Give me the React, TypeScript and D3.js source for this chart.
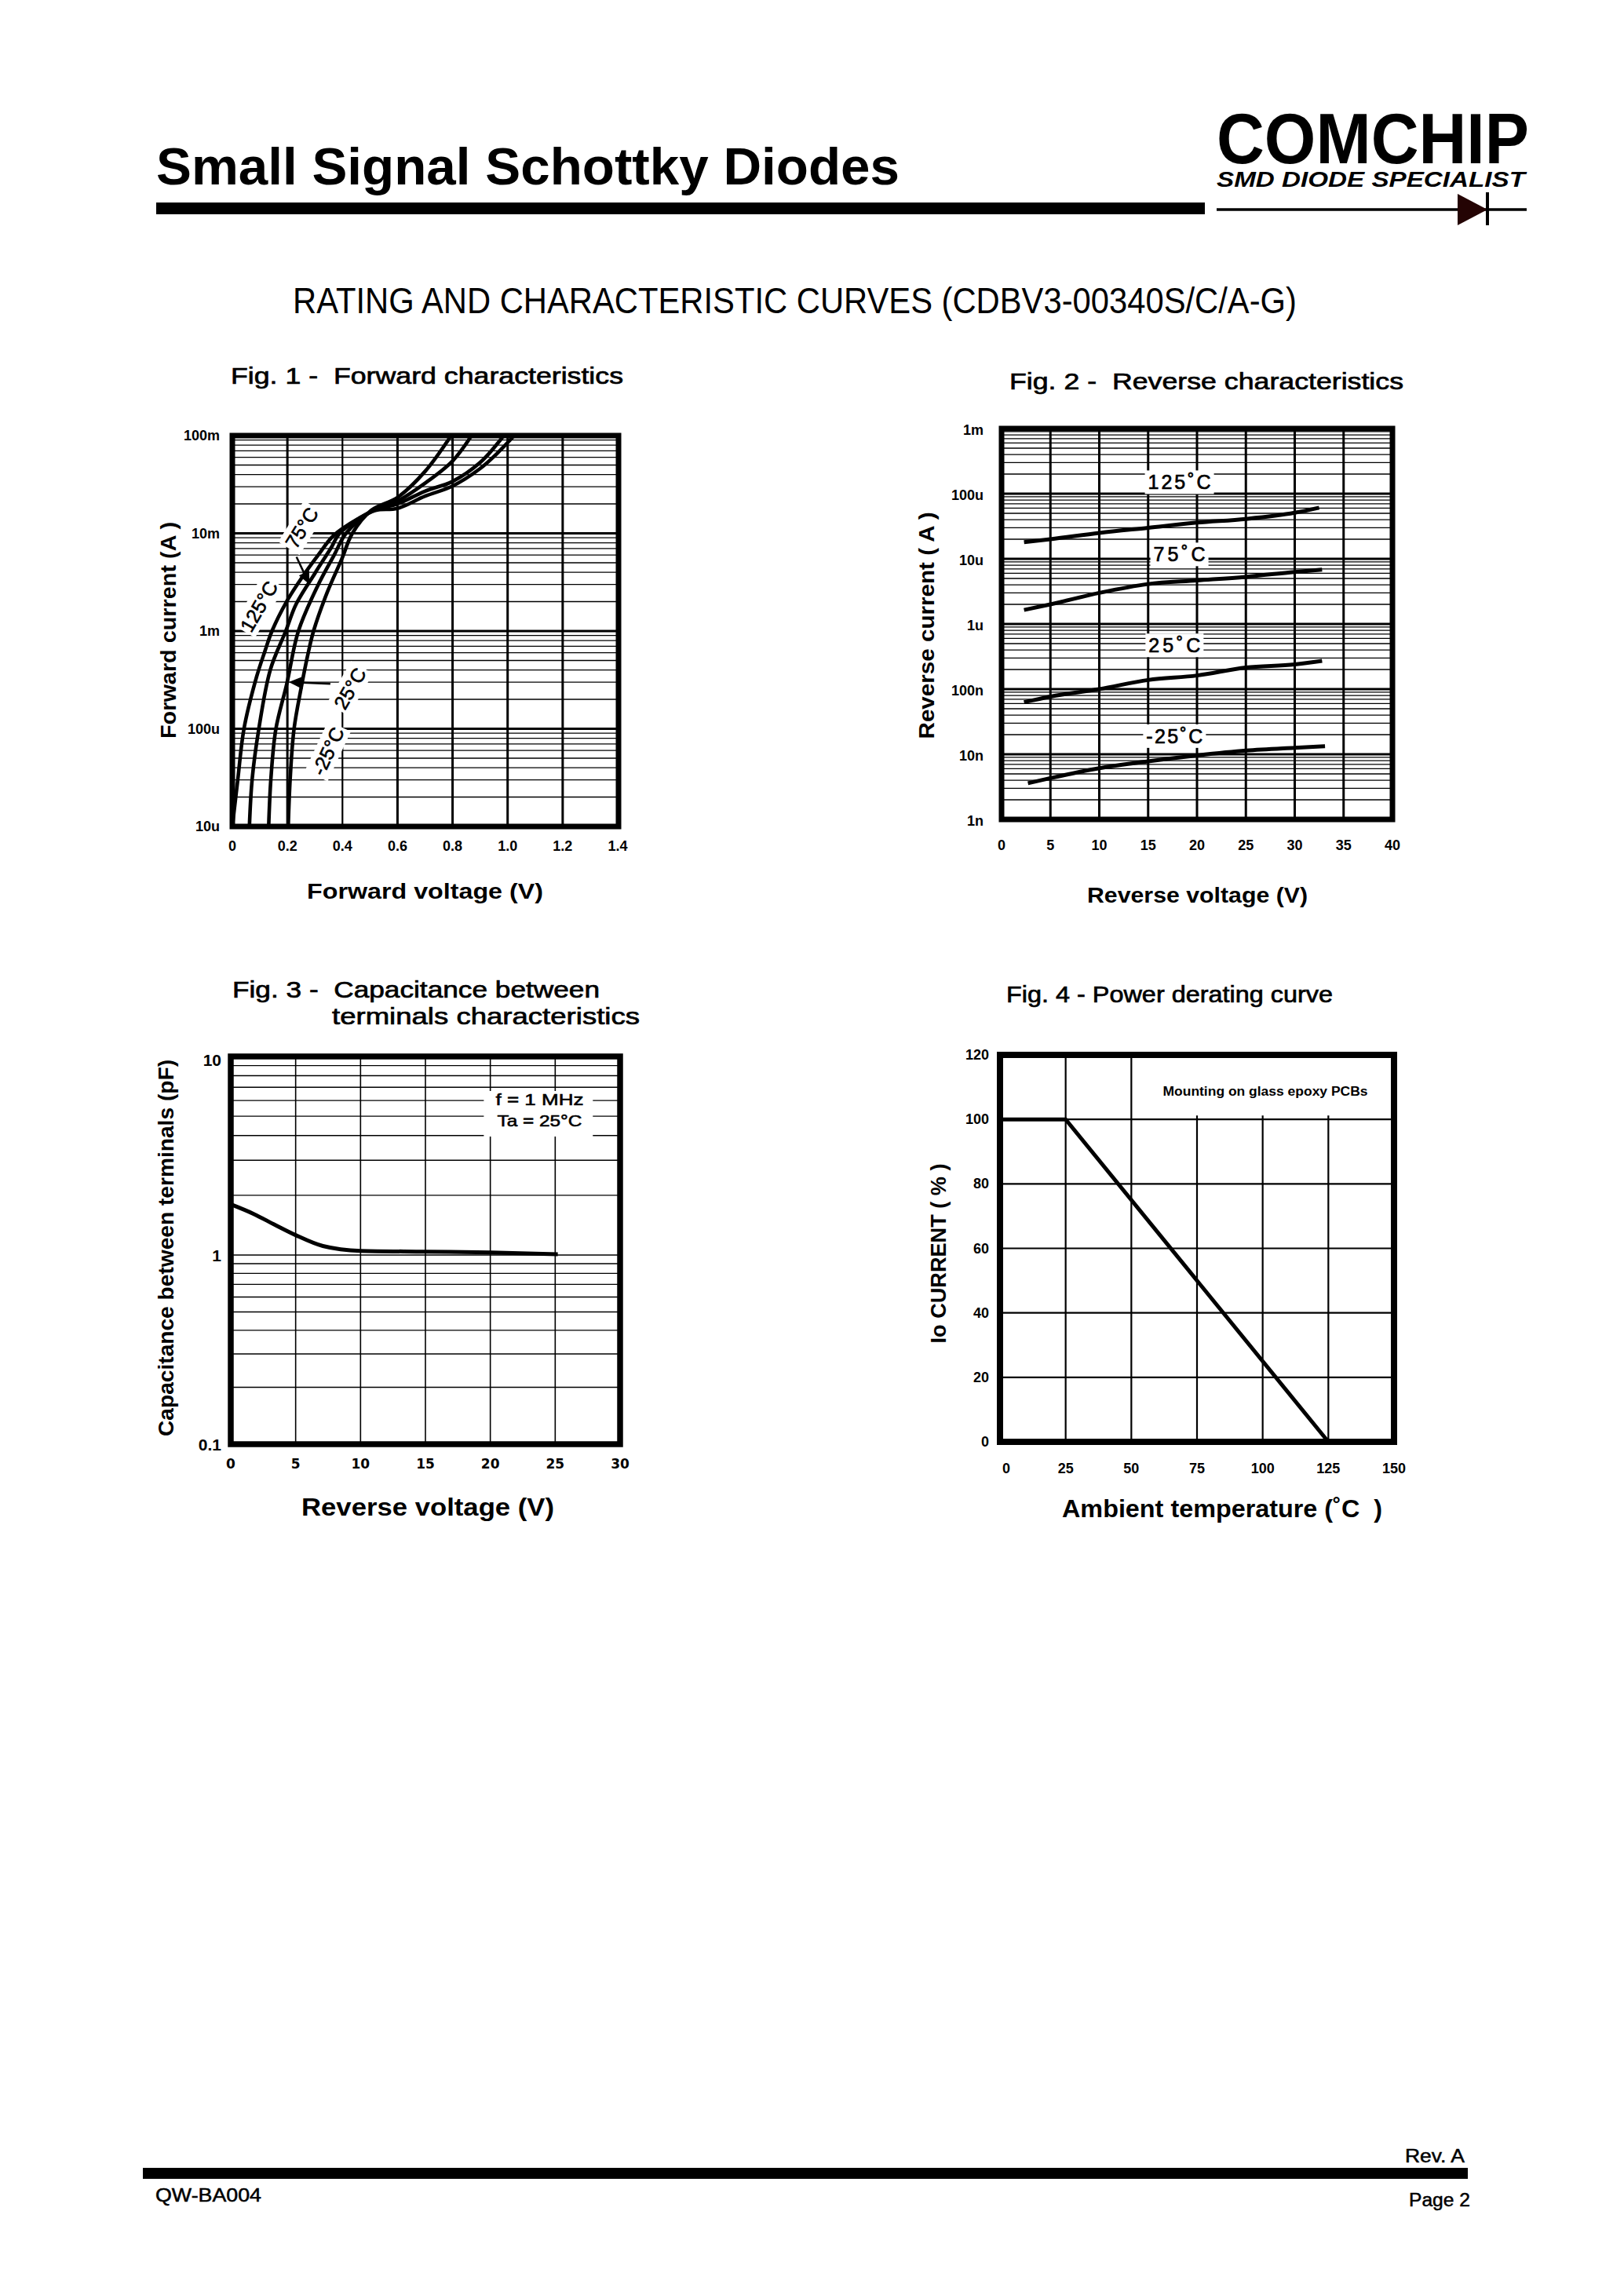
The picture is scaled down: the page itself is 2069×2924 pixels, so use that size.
import React from "react";
import * as d3 from "d3";

type Pt = [number, number];

const FONT = "'Liberation Sans', Arial, Helvetica, sans-serif";

// ---------------- Fig. 1 : Forward characteristics ----------------
const fig1XTicks = [0, 0.2, 0.4, 0.6, 0.8, 1.0, 1.2, 1.4];
const fig1XTickLabels = ["0", "0.2", "0.4", "0.6", "0.8", "1.0", "1.2", "1.4"];
const fig1YTicks = [1e-5, 1e-4, 1e-3, 1e-2, 1e-1];
const fig1YTickLabels = ["10u", "100u", "1m", "10m", "100m"];
const fig1Curve125: Pt[] = [
  [0.0, 1e-5], [0.02, 3.05e-5], [0.042, 9.9e-5], [0.088, 3.39e-4], [0.118, 6.18e-4],
  [0.144, 1e-3], [0.197, 2.0e-3], [0.255, 3.6e-3], [0.312, 6.0e-3], [0.368, 9.5e-3],
  [0.455, 1.4e-2], [0.52, 1.72e-2], [0.6, 1.8e-2], [0.7, 2.4e-2], [0.8, 3.05e-2],
  [0.9, 4.6e-2], [0.96, 6.5e-2], [1.024, 0.1],
];
const fig1Curve75: Pt[] = [
  [0.062, 1e-5], [0.072, 3.05e-5], [0.096, 9.9e-5], [0.138, 4.02e-4], [0.194, 1e-3],
  [0.232, 1.89e-3], [0.3, 3.9e-3], [0.36, 7.2e-3], [0.39, 1.0e-2], [0.515, 1.72e-2],
  [0.6, 2.0e-2], [0.7, 2.7e-2], [0.8, 3.4e-2], [0.9, 5.3e-2], [0.986, 0.1],
];
const fig1Curve25: Pt[] = [
  [0.132, 1e-5], [0.14, 3.05e-5], [0.158, 9.9e-5], [0.198, 2.9e-4], [0.24, 1e-3],
  [0.31, 2.9e-3], [0.37, 6.0e-3], [0.413, 1.0e-2], [0.51, 1.72e-2], [0.6, 2.14e-2],
  [0.7, 3.26e-2], [0.8, 5.5e-2], [0.869, 0.1],
];
const fig1CurveM25: Pt[] = [
  [0.203, 1e-5], [0.21, 3.05e-5], [0.224, 9.9e-5], [0.25, 2.62e-4], [0.274, 5.68e-4],
  [0.295, 1e-3], [0.345, 2.5e-3], [0.398, 5.5e-3], [0.436, 1.0e-2], [0.505, 1.72e-2],
  [0.6, 2.33e-2], [0.7, 4.3e-2], [0.795, 0.1],
];
const fig1SeriesLabels = ["125°C", "75°C", "25°C", "-25°C"];

// ---------------- Fig. 2 : Reverse characteristics ----------------
const fig2XTicks = [0, 5, 10, 15, 20, 25, 30, 35, 40];
const fig2XTickLabels = ["0", "5", "10", "15", "20", "25", "30", "35", "40"];
const fig2YTicks = [1e-9, 1e-8, 1e-7, 1e-6, 1e-5, 1e-4, 1e-3];
const fig2YTickLabels = ["1n", "10n", "100n", "1u", "10u", "100u", "1m"];
const fig2Curve125: Pt[] = [
  [2.3, 1.8e-5], [5, 2.0e-5], [10, 2.5e-5], [15, 3.0e-5], [20, 3.6e-5], [25, 4.1e-5], [30, 5.1e-5], [32.5, 6.1e-5],
];
const fig2Curve75: Pt[] = [
  [2.3, 1.64e-6], [5, 2.0e-6], [10, 3.0e-6], [15, 4.1e-6], [20, 4.66e-6], [25, 5.3e-6], [30, 6.3e-6], [32.8, 6.85e-6],
];
const fig2Curve25: Pt[] = [
  [2.3, 6.3e-8], [5, 7.7e-8], [10, 1.0e-7], [15, 1.38e-7], [20, 1.62e-7], [25, 2.14e-7], [30, 2.4e-7], [32.8, 2.72e-7],
];
const fig2CurveM25: Pt[] = [
  [2.7, 3.6e-9], [5, 4.3e-9], [10, 6.1e-9], [15, 7.8e-9], [20, 9.6e-9], [25, 1.14e-8], [30, 1.26e-8], [33.1, 1.33e-8],
];
const fig2SeriesLabels = ["125˚C", "75˚C", "25˚C", "-25˚C"];

// ---------------- Fig. 3 : Capacitance ----------------
const fig3XTicks = [0, 5, 10, 15, 20, 25, 30];
const fig3XTickLabels = ["0", "5", "10", "15", "20", "25", "30"];
const fig3YTicks = [0.1, 1, 10];
const fig3YTickLabels = ["0.1", "1", "10"];
const fig3Curve: Pt[] = [
  [0, 1.8], [1.77, 1.61], [3.4, 1.42], [5, 1.26], [7.1, 1.11], [10, 1.05], [15, 1.04], [20, 1.03], [25.2, 1.01],
];

// ---------------- Fig. 4 : Power derating ----------------
const fig4XTicks = [0, 25, 50, 75, 100, 125, 150];
const fig4XTickLabels = ["0", "25", "50", "75", "100", "125", "150"];
const fig4YTicks = [0, 20, 40, 60, 80, 100, 120];
const fig4YTickLabels = ["0", "20", "40", "60", "80", "100", "120"];
const fig4Curve: Pt[] = [[0, 100], [25, 100], [125, 0]];

// ---------------- helpers ----------------
function minorLog(majors: number[]): number[] {
  const out: number[] = [];
  for (let i = 0; i < majors.length - 1; i++) {
    for (let k = 2; k <= 9; k++) out.push(majors[i] * k);
  }
  return out;
}

function Arrow({ x1, y1, x2, y2, size = 16, sw = 2.5 }: any) {
  const a = Math.atan2(y2 - y1, x2 - x1);
  const bx = x2 - size * Math.cos(a);
  const by = y2 - size * Math.sin(a);
  const w = size * 0.45;
  const p2 = [bx + w * Math.sin(a), by - w * Math.cos(a)];
  const p3 = [bx - w * Math.sin(a), by + w * Math.cos(a)];
  return (
    <g>
      <line x1={x1} y1={y1} x2={bx} y2={by} stroke="#000" strokeWidth={sw} />
      <polygon points={`${x2},${y2} ${p2[0]},${p2[1]} ${p3[0]},${p3[1]}`} fill="#000" />
    </g>
  );
}

function RotLabel({ x, y, angle, text, fontSize = 25, w = 70, h = 30 }: any) {
  return (
    <g transform={`translate(${x},${y}) rotate(${angle})`}>
      <rect x={-w / 2} y={-h / 2} width={w} height={h} fill="#fff" />
      <text textAnchor="middle" dy="0.36em" fontSize={fontSize} fontFamily={FONT} stroke="#000" strokeWidth={0.6}>
        {text}
      </text>
    </g>
  );
}

function YTitle({ cx, cy, text, len, fs = 28 }: any) {
  return (
    <text
      transform={`translate(${cx},${cy}) rotate(-90)`}
      textAnchor="middle"
      dy="0.36em"
      fontSize={fs}
      fontWeight="bold"
      fontFamily={FONT}
      textLength={len}
      lengthAdjust="spacingAndGlyphs"
      style={{ whiteSpace: "pre" }}
    >
      {text}
    </text>
  );
}

function XTitle({ x, y, text, len, fs = 28 }: any) {
  return (
    <text
      x={x}
      y={y}
      fontSize={fs}
      fontWeight="bold"
      fontFamily={FONT}
      textLength={len}
      lengthAdjust="spacingAndGlyphs"
      style={{ whiteSpace: "pre" }}
    >
      {text}
    </text>
  );
}

function FigTitle({ x, y, text, len, fs = 30 }: any) {
  return (
    <text
      x={x}
      y={y}
      fontSize={fs}
      fontFamily={FONT}
      stroke="#000"
      strokeWidth={0.7}
      textLength={len}
      lengthAdjust="spacingAndGlyphs"
      style={{ whiteSpace: "pre" }}
    >
      {text}
    </text>
  );
}

// ---------------- Fig 1 ----------------
function Fig1() {
  const x = d3.scaleLinear().domain([0, 1.4]).range([296, 787]);
  const y = d3.scaleLog().domain([1e-5, 1e-1]).range([1053, 555]);
  const line = d3
    .line<Pt>()
    .x((d) => x(d[0]))
    .y((d) => y(d[1]))
    .curve(d3.curveCatmullRom.alpha(0.5));
  const curves = [fig1Curve125, fig1Curve75, fig1Curve25, fig1CurveM25];
  const [x0, x1] = x.range();
  const [y0, y1] = y.range();
  return (
    <g>
      <FigTitle x={294} y={489} text="Fig. 1 -  Forward characteristics" len={500} />
      <defs>
        <clipPath id="clip1">
          <rect x={x0} y={y1} width={x1 - x0} height={y0 - y1} />
        </clipPath>
      </defs>
      {minorLog(fig1YTicks).map((v, i) => (
        <line key={"m" + i} x1={x0} x2={x1} y1={y(v)} y2={y(v)} stroke="#000" strokeWidth={1.3} />
      ))}
      {fig1YTicks.map((v, i) => (
        <line key={"h" + i} x1={x0} x2={x1} y1={y(v)} y2={y(v)} stroke="#000" strokeWidth={3} />
      ))}
      {fig1XTicks.slice(1, -1).map((v, i) => (
        <line key={"v" + i} x1={x(v)} x2={x(v)} y1={y1} y2={y0} stroke="#000" strokeWidth={i === 1 ? 2.2 : 3} />
      ))}
      <RotLabel x={x(0.096)} y={y(1.79e-3)} angle={-60} text={fig1SeriesLabels[0]} w={74} h={32} />
      <RotLabel x={x(0.252)} y={y(1.14e-2)} angle={-58} text={fig1SeriesLabels[1]} w={62} h={32} />
      <RotLabel x={x(0.427)} y={y(2.59e-4)} angle={-60} text={fig1SeriesLabels[2]} w={62} h={32} />
      <RotLabel x={x(0.347)} y={y(5.9e-5)} angle={-65} text={fig1SeriesLabels[3]} w={70} h={32} />
      <g clipPath="url(#clip1)">
        {curves.map((c, i) => (
          <path key={i} d={line(c) || ""} fill="none" stroke="#000" strokeWidth={4.6} strokeLinejoin="round" />
        ))}
      </g>
      <Arrow x1={x(0.233)} y1={y(5.75e-3)} x2={x(0.28)} y2={y(3.0e-3)} size={16} />
      <Arrow x1={x(0.356)} y1={y(2.88e-4)} x2={x(0.205)} y2={y(3.0e-4)} size={18} />
      <rect x={x0} y={y1} width={x1 - x0 + 1} height={y0 - y1} fill="none" stroke="#000" strokeWidth={7} />
      {fig1XTicks.map((v, i) => (
        <text key={"xt" + i} x={x(v)} y={1084} textAnchor="middle" fontSize={18} fontWeight="bold" fontFamily={FONT}>
          {fig1XTickLabels[i]}
        </text>
      ))}
      {fig1YTicks.map((v, i) => (
        <text key={"yt" + i} x={280} y={y(v) + 6} textAnchor="end" fontSize={18} fontWeight="bold" fontFamily={FONT}>
          {fig1YTickLabels[i]}
        </text>
      ))}
      <YTitle cx={214} cy={803} text="Forward current (A )" len={276} />
      <XTitle x={391} y={1145} text="Forward voltage (V)" len={301} />
    </g>
  );
}

// ---------------- Fig 2 ----------------
function Fig2() {
  const x = d3.scaleLinear().domain([0, 40]).range([1276, 1774]);
  const y = d3.scaleLog().domain([1e-9, 1e-3]).range([1044, 546]);
  const line = d3
    .line<Pt>()
    .x((d) => x(d[0]))
    .y((d) => y(d[1]))
    .curve(d3.curveMonotoneX);
  const curves = [fig2Curve125, fig2Curve75, fig2Curve25, fig2CurveM25];
  const labelPos: Pt[] = [[18.2, 1.5e-4], [18.2, 1.17e-5], [17.7, 4.7e-7], [17.7, 1.9e-8]];
  const labelW = [80, 66, 66, 72];
  const [x0, x1] = x.range();
  const [y0, y1] = y.range();
  return (
    <g>
      <FigTitle x={1286} y={496} text="Fig. 2 -  Reverse characteristics" len={502} />
      {minorLog(fig2YTicks).map((v, i) => (
        <line key={"m" + i} x1={x0} x2={x1} y1={y(v)} y2={y(v)} stroke="#000" strokeWidth={1.3} />
      ))}
      {fig2YTicks.map((v, i) => (
        <line key={"h" + i} x1={x0} x2={x1} y1={y(v)} y2={y(v)} stroke="#000" strokeWidth={3} />
      ))}
      {fig2XTicks.slice(1, -1).map((v, i) => (
        <line key={"v" + i} x1={x(v)} x2={x(v)} y1={y1} y2={y0} stroke="#000" strokeWidth={3} />
      ))}
      {labelPos.map((p, i) => (
        <g key={"l" + i}>
          <rect x={x(p[0]) - labelW[i] / 2 - 4} y={y(p[1]) - 15} width={labelW[i] + 8} height={30} fill="#fff" />
          <text
            x={x(p[0])}
            y={y(p[1])}
            dy="0.36em"
            textAnchor="middle"
            fontSize={25}
            fontFamily={FONT}
            stroke="#000"
            strokeWidth={0.7}
            textLength={labelW[i]}
            lengthAdjust="spacing"
          >
            {fig2SeriesLabels[i]}
          </text>
        </g>
      ))}
      {curves.map((c, i) => (
        <path key={i} d={line(c) || ""} fill="none" stroke="#000" strokeWidth={5} />
      ))}
      <rect x={x0} y={y1} width={x1 - x0} height={y0 - y1} fill="none" stroke="#000" strokeWidth={7} />
      {fig2XTicks.map((v, i) => (
        <text key={"xt" + i} x={x(v)} y={1083} textAnchor="middle" fontSize={18} fontWeight="bold" fontFamily={FONT}>
          {fig2XTickLabels[i]}
        </text>
      ))}
      {fig2YTicks.map((v, i) => (
        <text key={"yt" + i} x={1253} y={y(v) + 8} textAnchor="end" fontSize={18} fontWeight="bold" fontFamily={FONT}>
          {fig2YTickLabels[i]}
        </text>
      ))}
      <YTitle cx={1180} cy={797} text="Reverse current ( A )" len={289} />
      <XTitle x={1385} y={1150} text="Reverse voltage (V)" len={281} />
    </g>
  );
}

// ---------------- Fig 3 ----------------
function Fig3() {
  const x = d3.scaleLinear().domain([0, 30]).range([294, 790]);
  // graph paper decades are slightly unequal: piecewise log scale
  const y = d3.scaleLog().domain([0.1, 1, 10]).range([1840, 1599, 1346]);
  const line = d3
    .line<Pt>()
    .x((d) => x(d[0]))
    .y((d) => y(d[1]))
    .curve(d3.curveMonotoneX);
  const [x0, x1] = x.range();
  const y0 = y(0.1);
  const y1 = y(10);
  return (
    <g>
      <FigTitle x={296} y={1271} text="Fig. 3 -  Capacitance between" len={468} />
      <FigTitle x={423} y={1305} text="terminals characteristics" len={392} />
      {minorLog(fig3YTicks).map((v, i) => (
        <line key={"m" + i} x1={x0} x2={x1} y1={y(v)} y2={y(v)} stroke="#000" strokeWidth={1.4} />
      ))}
      {fig3YTicks.map((v, i) => (
        <line key={"h" + i} x1={x0} x2={x1} y1={y(v)} y2={y(v)} stroke="#000" strokeWidth={1.6} />
      ))}
      {fig3XTicks.slice(1, -1).map((v, i) => (
        <line key={"v" + i} x1={x(v)} x2={x(v)} y1={y1} y2={y0} stroke="#000" strokeWidth={1.6} />
      ))}
      <rect x={x(19.5)} y={y(6.7)} width={x(27.9) - x(19.5)} height={y(3.95) - y(6.7)} fill="#fff" />
      <text x={x(23.8)} y={y(6.1)} dy="0.36em" textAnchor="middle" fontSize={21} fontFamily={FONT} stroke="#000" strokeWidth={0.6} textLength={112} lengthAdjust="spacingAndGlyphs">
        f = 1 MHz
      </text>
      <text x={x(23.8)} y={y(4.75)} dy="0.36em" textAnchor="middle" fontSize={21} fontFamily={FONT} stroke="#000" strokeWidth={0.6} textLength={108} lengthAdjust="spacingAndGlyphs">
        Ta = 25°C
      </text>
      <path d={line(fig3Curve) || ""} fill="none" stroke="#000" strokeWidth={5} />
      <rect x={x0} y={y1} width={x1 - x0} height={y0 - y1} fill="none" stroke="#000" strokeWidth={7.5} />
      {fig3XTicks.map((v, i) => (
        <text key={"xt" + i} x={x(v)} y={1871} textAnchor="middle" fontSize={17} fontWeight="bold" fontFamily="'DejaVu Sans', Verdana, sans-serif">
          {fig3XTickLabels[i]}
        </text>
      ))}
      {fig3YTicks.map((v, i) => (
        <text key={"yt" + i} x={282} y={y(v) + 8 + (i === 2 ? 4 : 0)} textAnchor="end" fontSize={21} fontWeight="bold" fontFamily={FONT}>
          {fig3YTickLabels[i]}
        </text>
      ))}
      <YTitle cx={211} cy={1590} text="Capacitance between terminals (pF)" len={480} fs={27} />
      <XTitle x={384} y={1931} text="Reverse voltage (V)" len={322} fs={32} />
    </g>
  );
}

// ---------------- Fig 4 ----------------
function Fig4() {
  const x = d3.scaleLinear().domain([0, 150]).range([1274, 1776]);
  const y = d3.scaleLinear().domain([0, 120]).range([1837, 1344]);
  const line = d3
    .line<Pt>()
    .x((d) => x(d[0]))
    .y((d) => y(d[1]));
  const [x0, x1] = x.range();
  const [y0, y1] = y.range();
  return (
    <g>
      <FigTitle x={1282} y={1277} text="Fig. 4 - Power derating curve" len={416} />
      {fig4YTicks.slice(1, -1).map((v, i) => (
        <line key={"h" + i} x1={x0} x2={x1} y1={y(v)} y2={y(v)} stroke="#000" strokeWidth={2.2} />
      ))}
      {fig4XTicks.slice(1, -1).map((v, i) => (
        <line key={"v" + i} x1={x(v)} x2={x(v)} y1={y1} y2={y0} stroke="#000" strokeWidth={2.2} />
      ))}
      <rect x={x(55)} y={y1} width={x1 - x(55)} height={y(101.2) - y1} fill="#fff" />
      <text x={x(101)} y={y(108.7)} dy="0.36em" textAnchor="middle" fontSize={16} fontWeight="bold" fontFamily={FONT} textLength={261} lengthAdjust="spacingAndGlyphs">
        Mounting on glass epoxy PCBs
      </text>
      <path d={line(fig4Curve) || ""} fill="none" stroke="#000" strokeWidth={5} />
      <rect x={x0} y={y1} width={x1 - x0} height={y0 - y1} fill="none" stroke="#000" strokeWidth={8} />
      {fig4XTicks.map((v, i) => (
        <text key={"xt" + i} x={x(v) + (i === 0 ? 8 : 0)} y={1877} textAnchor="middle" fontSize={18} fontWeight="bold" fontFamily={FONT}>
          {fig4XTickLabels[i]}
        </text>
      ))}
      {fig4YTicks.map((v, i) => (
        <text key={"yt" + i} x={1260} y={y(v) + 6} textAnchor="end" fontSize={18} fontWeight="bold" fontFamily={FONT}>
          {fig4YTickLabels[i]}
        </text>
      ))}
      <YTitle cx={1195} cy={1597} text="Io CURRENT ( % )" len={229} />
      <XTitle x={1353} y={1933} text="Ambient temperature (˚C  )" len={408} fs={31} />
    </g>
  );
}

export default function App() {
  return (
    <svg
      width={2069}
      height={2924}
      viewBox="0 0 2069 2924"
      style={{ position: "absolute", left: 0, top: 0, display: "block", background: "#fff" }}
      fontFamily={FONT}
    >
      <rect x={0} y={0} width={2069} height={2924} fill="#fff" />
      {/* Header */}
      <text x={199} y={235} fontSize={66} fontWeight="bold" fontFamily={FONT} textLength={947} lengthAdjust="spacingAndGlyphs">
        Small Signal Schottky Diodes
      </text>
      <rect x={199} y={258} width={1336} height={15} fill="#000" />
      <text x={1550} y={208} fontSize={91} fontWeight="bold" fontFamily={FONT} textLength={398} lengthAdjust="spacingAndGlyphs">
        COMCHIP
      </text>
      <text x={1550} y={238} fontSize={27} fontWeight="bold" fontStyle="italic" fontFamily={FONT} textLength={393} lengthAdjust="spacingAndGlyphs">
        SMD DIODE SPECIALIST
      </text>
      <line x1={1550} x2={1945} y1={267} y2={267} stroke="#000" strokeWidth={3.3} />
      <polygon points="1857,247 1857,287 1895,267" fill="#240404" />
      <line x1={1895} x2={1895} y1={245} y2={287} stroke="#000" strokeWidth={4} />

      <text x={373} y={399} fontSize={46} fontFamily={FONT} textLength={1279} lengthAdjust="spacingAndGlyphs">
        RATING AND CHARACTERISTIC CURVES (CDBV3-00340S/C/A-G)
      </text>

      <Fig1 />
      <Fig2 />
      <Fig3 />
      <Fig4 />

      {/* Footer */}
      <text x={1866} y={2755} textAnchor="end" fontSize={23} fontFamily={FONT} stroke="#000" strokeWidth={0.5} textLength={76} lengthAdjust="spacingAndGlyphs">
        Rev. A
      </text>
      <rect x={182} y={2762} width={1688} height={14} fill="#000" />
      <text x={198} y={2805} fontSize={23} fontFamily={FONT} stroke="#000" strokeWidth={0.5} textLength={135} lengthAdjust="spacingAndGlyphs">
        QW-BA004
      </text>
      <text x={1873} y={2811} textAnchor="end" fontSize={23} fontFamily={FONT} stroke="#000" strokeWidth={0.5} textLength={78} lengthAdjust="spacingAndGlyphs">
        Page 2
      </text>
    </svg>
  );
}
